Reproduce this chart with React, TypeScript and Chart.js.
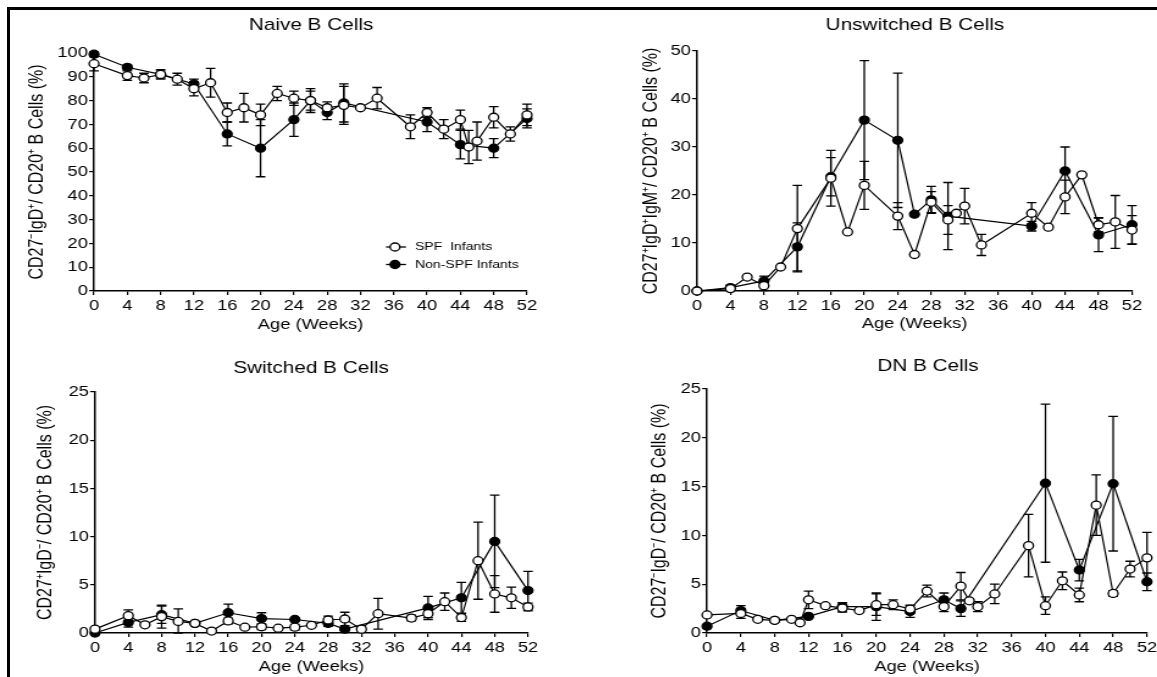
import React, { useEffect, useRef } from "react";
import { Chart, registerables } from "chart.js";

Chart.register(...registerables);

const FONT = '"Liberation Sans", Arial, Helvetica, sans-serif';
Chart.defaults.font.family = FONT;

// ---------- tick labels ----------
const weekTicks = [0, 4, 8, 12, 16, 20, 24, 28, 32, 36, 40, 44, 48, 52];
const naiveTicks = [0, 10, 20, 30, 40, 50, 60, 70, 80, 90, 100];
const unswitchedTicks = [0, 10, 20, 30, 40, 50];
const switchedTicks = [0, 5, 10, 15, 20, 25];
const dnTicks = [0, 5, 10, 15, 20, 25];

const seriesNames = ["SPF  Infants", "Non-SPF Infants"];

// ---------- Naive B cells ----------
const naiveSpfWeeks = [0, 4, 6, 8, 10, 12, 14, 16, 18, 20, 22, 24, 26, 28, 30, 32, 34, 38, 40, 42, 44, 45, 46, 48, 50, 52];
const naiveSpfVals = [95.5, 90.5, 89.5, 91, 89, 85, 87.5, 75, 77, 74, 83, 81, 80, 77, 78, 77, 81, 69, 75, 68, 72, 60.5, 63, 73, 66, 74];
const naiveSpfErr = [3, 2, 2, 1.5, 2.5, 3, 6, 4, 6, 4.5, 3, 3, 5, 2.5, 8, 0, 4.5, 5, 2, 4, 4, 7, 8, 4.5, 3, 4.5];
const naiveNonWeeks = [0, 4, 8, 12, 16, 20, 24, 26, 28, 30, 40, 44, 48, 52];
const naiveNonVals = [99.5, 94, 91, 87, 66, 60, 72, 80, 75, 79, 71, 61.5, 60, 72.5];
const naiveNonErr = [1, 1, 2, 2, 5, 12, 7, 4, 3, 8, 4, 6, 4, 4];

// ---------- Unswitched B cells ----------
const unswSpfWeeks = [0, 4, 6, 8, 10, 12, 16, 18, 20, 24, 26, 28, 30, 31, 32, 34, 40, 42, 44, 46, 48, 50, 52];
const unswSpfVals = [0, 0.5, 2.9, 1.1, 5, 13, 23.5, 12.3, 22, 15.6, 7.6, 18.5, 14.8, 16.2, 17.7, 9.6, 16.2, 13.3, 19.6, 24.2, 13.8, 14.4, 12.7];
const unswSpfErr = [0, 0, 0, 1, 0, 9, 5.8, 0, 5, 2.8, 0, 2.2, 3, 0, 3.7, 2.2, 2.2, 0, 3.5, 0, 1.5, 5.5, 3];
const unswNonWeeks = [0, 4, 8, 12, 16, 20, 24, 26, 28, 30, 40, 44, 48, 52];
const unswNonVals = [0, 0.7, 2.1, 9.2, 23.8, 35.6, 31.4, 16, 19, 15.6, 13.5, 25, 11.7, 13.8];
const unswNonErr = [0, 0.5, 1, 5, 4, 12.4, 14, 0, 2.8, 7, 1, 5, 3.5, 4];

// ---------- Switched B cells ----------
const swSpfWeeks = [0, 4, 6, 8, 10, 12, 14, 16, 18, 20, 22, 24, 26, 28, 30, 32, 34, 38, 40, 42, 44, 46, 48, 50, 52];
const swSpfVals = [0.4, 1.8, 0.85, 1.7, 1.2, 1.0, 0.2, 1.25, 0.6, 0.65, 0.5, 0.6, 0.8, 1.35, 1.45, 0.4, 2.0, 1.55, 2.0, 3.25, 1.6, 7.5, 4.05, 3.65, 2.7];
const swSpfErr = [0, 0.6, 0, 1.2, 1.3, 0, 0, 0.3, 0, 0.3, 0, 0.3, 0, 0.4, 0.7, 0, 1.6, 0.3, 0.4, 0.9, 0.4, 4, 1.9, 1.1, 0.4];
const swNonWeeks = [0, 4, 8, 12, 16, 20, 24, 28, 30, 40, 44, 48, 52];
const swNonVals = [0, 1.1, 1.9, 1.0, 2.1, 1.5, 1.4, 1.0, 0.4, 2.6, 3.65, 9.5, 4.4];
const swNonErr = [0, 0.5, 0.9, 0, 0.9, 0.6, 0, 0.3, 0, 1.2, 1.6, 4.8, 2.0];

// ---------- DN B cells ----------
const dnSpfWeeks = [0, 4, 6, 8, 10, 11, 12, 14, 16, 18, 20, 22, 24, 26, 28, 30, 31, 32, 34, 38, 40, 42, 44, 46, 48, 50, 52];
const dnSpfVals = [1.85, 2.0, 1.4, 1.3, 1.4, 1.05, 3.4, 2.8, 2.55, 2.3, 2.9, 2.9, 2.45, 4.3, 2.7, 4.8, 3.3, 2.7, 4.0, 8.95, 2.8, 5.35, 3.9, 13.1, 4.05, 6.55, 7.7];
const dnSpfErr = [0, 0.5, 0, 0, 0, 0, 0.9, 0, 0.4, 0, 1.1, 0.5, 0.4, 0.6, 0.5, 1.4, 0, 0.5, 1.0, 3.2, 0.9, 0.9, 0.7, 3.1, 0.3, 0.8, 2.6];
const dnNonWeeks = [0, 4, 8, 12, 16, 20, 24, 28, 30, 40, 44, 48, 52];
const dnNonVals = [0.7, 2.3, 1.3, 1.7, 2.7, 2.7, 2.2, 3.4, 2.5, 15.35, 6.45, 15.3, 5.25];
const dnNonErr = [0, 0.5, 0, 0, 0.4, 1.4, 0.6, 0.7, 0.8, 8.1, 1.1, 6.9, 0.9];

// ---------- layout (screen px) ----------
const SX = 1.22; // horizontal stretch of the figure
const CAP = 3.9;

type Series = { label: string; weeks: number[]; vals: number[]; err: number[]; filled: boolean };
type PanelDef = {
  key: string;
  title: string;
  yTitle: string;
  yTicks: number[];
  series: Series[];
  box: { L: number; T: number; W: number; H: number };
  area: { l: number; r: number; t: number; b: number };
  titlePos: { x: number; y: number };
  yTitleX: number;
  xTitleY: number;
  legend?: { x: number; y: number; gap: number };
};

const mkSeries = (weeks: number[], vals: number[], err: number[], idx: number): Series => ({
  label: seriesNames[idx],
  weeks,
  vals,
  err,
  filled: idx === 1,
});

const panels: PanelDef[] = [
  {
    key: "naive",
    title: "Naive B Cells",
    yTitle: "CD27\u207BIgD\u207A/ CD20\u207A B Cells (%)",
    yTicks: naiveTicks,
    series: [mkSeries(naiveSpfWeeks, naiveSpfVals, naiveSpfErr, 0), mkSeries(naiveNonWeeks, naiveNonVals, naiveNonErr, 1)],
    box: { L: 0, T: 0, W: 580, H: 340 },
    area: { l: 94, r: 527, t: 53, b: 291 },
    titlePos: { x: 311, y: 25 },
    yTitleX: 37,
    xTitleY: 325,
    legend: { x: 386, y: 247, gap: 17.5 },
  },
  {
    key: "unsw",
    title: "Unswitched B Cells",
    yTitle: "CD27\u207AIgD\u207AIgM\u207A/ CD20\u207A B Cells (%)",
    yTicks: unswitchedTicks,
    series: [mkSeries(unswSpfWeeks, unswSpfVals, unswSpfErr, 0), mkSeries(unswNonWeeks, unswNonVals, unswNonErr, 1)],
    box: { L: 580, T: 0, W: 577, H: 340 },
    area: { l: 697, r: 1132, t: 51, b: 291 },
    titlePos: { x: 915, y: 25 },
    yTitleX: 652,
    xTitleY: 324,
  },
  {
    key: "sw",
    title: "Switched B Cells",
    yTitle: "CD27\u207AIgD\u207B/ CD20\u207A B Cells (%)",
    yTicks: switchedTicks,
    series: [mkSeries(swSpfWeeks, swSpfVals, swSpfErr, 0), mkSeries(swNonWeeks, swNonVals, swNonErr, 1)],
    box: { L: 0, T: 340, W: 580, H: 337 },
    area: { l: 95, r: 528, t: 392, b: 633 },
    titlePos: { x: 311, y: 368 },
    yTitleX: 46,
    xTitleY: 667,
  },
  {
    key: "dn",
    title: "DN B Cells",
    yTitle: "CD27\u207BIgD\u207B/ CD20\u207A B Cells (%)",
    yTicks: dnTicks,
    series: [mkSeries(dnSpfWeeks, dnSpfVals, dnSpfErr, 0), mkSeries(dnNonWeeks, dnNonVals, dnNonErr, 1)],
    box: { L: 580, T: 340, W: 620, H: 337 },
    area: { l: 707, r: 1147, t: 389, b: 633 },
    titlePos: { x: 928, y: 366 },
    yTitleX: 660,
    xTitleY: 667,
  },
];

function Panel({ def }: { def: PanelDef }) {
  const ref = useRef<HTMLCanvasElement>(null);
  const { L, T, W, H } = def.box;
  const wi = Math.round(W / SX);

  useEffect(() => {
    const cv = ref.current;
    if (!cv) return;
    const ix = (sx: number) => (sx - L) / SX;
    const yAxisW = ix(def.area.l);
    const padRight = wi - ix(def.area.r);
    const padTop = def.area.t - T;
    const xAxisH = T + H - def.area.b;
    const yFont = 16;
    const xFont = 15;
    const yTitlePad = ix(def.yTitleX) - (yFont * 1.2) / 2;
    const xTitlePad = Math.max(0, T + H - def.xTitleY - (xFont * 1.2) / 2);
    const yMax = def.yTicks[def.yTicks.length - 1];

    const decor = {
      id: "decor_" + def.key,
      beforeDatasetsDraw(chart: any) {
        const { ctx } = chart;
        const xs = chart.scales.x;
        const ys = chart.scales.y;
        ctx.save();
        ctx.strokeStyle = "#000";
        ctx.lineWidth = 1.3;
        def.series.forEach((s) => {
          s.weeks.forEach((w, i) => {
            const e = s.err[i];
            if (!e) return;
            const px = xs.getPixelForValue(w);
            const top = ys.getPixelForValue(s.vals[i] + e);
            const bot = ys.getPixelForValue(Math.max(0, s.vals[i] - e));
            ctx.beginPath();
            ctx.moveTo(px, top);
            ctx.lineTo(px, bot);
            ctx.moveTo(px - CAP, top);
            ctx.lineTo(px + CAP, top);
            ctx.moveTo(px - CAP, bot);
            ctx.lineTo(px + CAP, bot);
            ctx.stroke();
          });
        });
        ctx.restore();
      },
      afterDraw(chart: any) {
        const { ctx } = chart;
        ctx.save();
        ctx.fillStyle = "#000";
        ctx.font = `17px ${FONT}`;
        ctx.textAlign = "center";
        ctx.textBaseline = "middle";
        ctx.fillText(def.title, ix(def.titlePos.x), def.titlePos.y - T);
        if (def.legend) {
          const lg = def.legend;
          def.series.forEach((s, i) => {
            const y = lg.y - T + i * lg.gap;
            const x0 = ix(lg.x);
            const x1 = ix(lg.x + 20);
            const xc = ix(lg.x + 9);
            ctx.strokeStyle = "#000";
            ctx.lineWidth = 1.3;
            ctx.beginPath();
            ctx.moveTo(x0, y);
            ctx.lineTo(x1, y);
            ctx.stroke();
            ctx.beginPath();
            ctx.arc(xc, y, 4, 0, Math.PI * 2);
            ctx.fillStyle = s.filled ? "#000" : "#fff";
            ctx.fill();
            ctx.stroke();
            ctx.fillStyle = "#000";
            ctx.font = `11.5px ${FONT}`;
            ctx.textAlign = "left";
            ctx.fillText(s.label, ix(lg.x + 29), y);
          });
        }
        ctx.restore();
      },
    };

    const chart = new Chart(cv, {
      type: "line",
      data: {
        datasets: def.series.map((s) => ({
          label: s.label,
          data: s.weeks.map((w, i) => ({ x: w, y: s.vals[i] })),
          borderColor: "#000",
          borderWidth: 1.2,
          pointBackgroundColor: s.filled ? "#000" : "#fff",
          pointBorderColor: "#000",
          pointBorderWidth: 1.3,
          pointRadius: 4,
          pointHoverRadius: 4,
          fill: false,
          tension: 0,
          clip: false as any,
        })),
      },
      options: {
        responsive: false,
        animation: false,
        devicePixelRatio: 1,
        events: [],
        layout: { padding: { left: 0, right: padRight, top: padTop, bottom: 0 } },
        plugins: {
          legend: { display: false },
          tooltip: { enabled: false },
          title: { display: false },
        },
        scales: {
          x: {
            type: "linear",
            min: 0,
            max: 52,
            afterBuildTicks: (s: any) => {
              s.ticks = weekTicks.map((v) => ({ value: v }));
            },
            afterFit: (s: any) => {
              s.height = xAxisH;
            },
            ticks: { color: "#000", font: { family: FONT, size: 15 }, padding: 2, maxRotation: 0, autoSkip: false },
            grid: { drawOnChartArea: false, color: "#000", tickLength: 4, lineWidth: 1.2 },
            border: { color: "#000", width: 1.5 },
            title: {
              display: true,
              text: "Age (Weeks)",
              color: "#000",
              font: { family: FONT, size: xFont, lineHeight: 1.2 },
              padding: { top: 0, bottom: xTitlePad },
            },
          },
          y: {
            type: "linear",
            min: 0,
            max: yMax,
            afterBuildTicks: (s: any) => {
              s.ticks = def.yTicks.map((v) => ({ value: v }));
            },
            afterFit: (s: any) => {
              s.width = yAxisW;
            },
            ticks: { color: "#000", font: { family: FONT, size: 15 }, padding: 1, autoSkip: false },
            grid: { drawOnChartArea: false, color: "#000", tickLength: 4, lineWidth: 1.2 },
            border: { color: "#000", width: 1.5 },
            title: {
              display: true,
              text: def.yTitle,
              color: "#000",
              font: { family: FONT, size: yFont, lineHeight: 1.2 },
              padding: { top: yTitlePad, bottom: 0 },
            },
          },
        },
      } as any,
      plugins: [decor],
    });
    return () => chart.destroy();
  }, [def]);

  return (
    <div
      style={{
        position: "absolute",
        left: L,
        top: T,
        width: wi,
        height: H,
        transform: `scaleX(${SX})`,
        transformOrigin: "0 0",
      }}
    >
      <canvas ref={ref} width={wi} height={H} style={{ display: "block", width: wi, height: H }} />
    </div>
  );
}

export default function App() {
  return (
    <div
      style={{
        position: "fixed",
        left: 0,
        top: 0,
        width: 1157,
        height: 677,
        overflow: "hidden",
        background: "#fff",
      }}
    >
      {panels.map((p) => (
        <Panel key={p.key} def={p} />
      ))}
      <div style={{ position: "absolute", left: 7, top: 7, width: 1150, height: 2.5, background: "#000" }} />
      <div style={{ position: "absolute", left: 7, top: 7, width: 2.5, height: 670, background: "#000" }} />
    </div>
  );
}
